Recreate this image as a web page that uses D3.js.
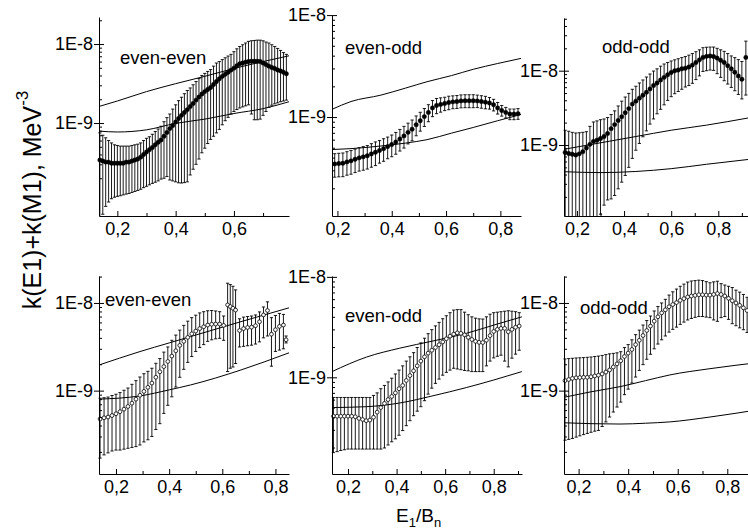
<!DOCTYPE html>
<html>
<head>
<meta charset="utf-8">
<script src="https://cdn.jsdelivr.net/npm/d3@7"></script>
<style>
  body { margin: 0; background: #fff; }
  svg { display: block; font-family: 'Liberation Sans', Arial, sans-serif; }
</style>
</head>
<body>
<svg></svg>
<script>
// All k values are in units of 1E-9 MeV^-3

// Tick labels
var xMajorTicks = [0.2, 0.4, 0.6, 0.8];
var xTickLabels = ['0,2', '0,4', '0,6', '0,8'];
var xMinorTicks = [0.1, 0.3, 0.5, 0.7, 0.9];
var yMajorTicks = [1, 10];
var yTickLabels = ['1E-9', '1E-8'];
var yMinorTicks = [0.2, 0.3, 0.4, 0.5, 0.6, 0.7, 0.8, 0.9, 2, 3, 4, 5, 6, 7, 8, 9, 20, 30, 40, 50];

// Top left: even-even
var eeTopX = [0.14, 0.15, 0.16, 0.17, 0.18, 0.19, 0.20, 0.21, 0.22, 0.23, 0.24, 0.25, 0.26, 0.27, 0.28, 0.29, 0.30, 0.31, 0.32, 0.33, 0.34, 0.35, 0.36, 0.37, 0.38, 0.39, 0.40, 0.41, 0.42, 0.43, 0.44, 0.45, 0.46, 0.47, 0.48, 0.49, 0.50, 0.51, 0.52, 0.53, 0.54, 0.55, 0.56, 0.57, 0.58, 0.59, 0.60, 0.61, 0.62, 0.63, 0.64, 0.65, 0.66, 0.67, 0.68, 0.69, 0.70, 0.71, 0.72, 0.73, 0.74, 0.75, 0.76, 0.77, 0.78];
var eeTopY = [0.34, 0.33, 0.32, 0.32, 0.31, 0.31, 0.31, 0.31, 0.31, 0.32, 0.32, 0.33, 0.34, 0.35, 0.37, 0.40, 0.43, 0.46, 0.49, 0.53, 0.57, 0.61, 0.68, 0.76, 0.85, 0.93, 1.03, 1.14, 1.25, 1.36, 1.48, 1.62, 1.77, 1.95, 2.14, 2.33, 2.50, 2.66, 2.82, 3.08, 3.35, 3.63, 3.90, 4.15, 4.40, 4.68, 4.95, 5.30, 5.62, 5.75, 5.90, 6.00, 6.05, 6.05, 6.05, 6.00, 5.75, 5.50, 5.25, 5.05, 4.90, 4.70, 4.57, 4.40, 4.20];
var eeTopHi = [0.75, 0.70, 0.65, 0.60, 0.56, 0.53, 0.52, 0.51, 0.51, 0.51, 0.51, 0.52, 0.53, 0.54, 0.56, 0.60, 0.64, 0.67, 0.72, 0.78, 0.84, 0.91, 1.04, 1.17, 1.30, 1.50, 1.70, 1.92, 2.12, 2.35, 2.58, 2.78, 3.05, 3.35, 3.65, 4.00, 4.25, 4.50, 4.75, 5.25, 5.75, 6.00, 6.35, 6.70, 7.05, 7.40, 8.00, 8.70, 9.30, 9.80, 10.3, 10.8, 11.0, 11.1, 11.2, 11.2, 11.0, 10.6, 10.3, 9.80, 9.30, 8.80, 8.30, 7.80, 7.40];
var eeTopLo = [0.05, 0.07, 0.088, 0.10, 0.11, 0.115, 0.118, 0.12, 0.123, 0.126, 0.128, 0.132, 0.136, 0.14, 0.145, 0.152, 0.158, 0.165, 0.172, 0.178, 0.185, 0.195, 0.20, 0.21, 0.19, 0.185, 0.18, 0.175, 0.174, 0.176, 0.18, 0.22, 0.26, 0.30, 0.35, 0.42, 0.48, 0.55, 0.62, 0.68, 0.75, 0.83, 0.95, 1.07, 1.18, 1.30, 1.40, 1.48, 1.55, 1.60, 1.65, 1.70, 1.30, 1.10, 1.10, 1.12, 1.25, 1.40, 1.58, 1.68, 1.75, 1.80, 1.86, 1.90, 1.95];
var eeTopLineX = [0.137, 0.2, 0.3, 0.4, 0.5, 0.6, 0.7, 0.789];
var eeTopUpper = [1.62, 1.90, 2.50, 3.15, 3.90, 4.90, 6.00, 7.10];
var eeTopLower = [0.79, 0.77, 0.82, 0.99, 1.12, 1.32, 1.52, 1.86];

// Top middle: even-odd
var eoTopX = [0.19, 0.205, 0.22, 0.235, 0.25, 0.265, 0.28, 0.295, 0.31, 0.325, 0.34, 0.355, 0.37, 0.385, 0.40, 0.415, 0.43, 0.445, 0.46, 0.475, 0.49, 0.505, 0.52, 0.535, 0.55, 0.565, 0.58, 0.595, 0.61, 0.625, 0.64, 0.655, 0.67, 0.685, 0.70, 0.715, 0.73, 0.745, 0.76, 0.775, 0.79, 0.805, 0.82, 0.835, 0.85, 0.865];
var eoTopY = [0.347, 0.35, 0.352, 0.363, 0.372, 0.385, 0.398, 0.407, 0.417, 0.435, 0.452, 0.47, 0.49, 0.513, 0.537, 0.569, 0.61, 0.653, 0.708, 0.76, 0.84, 0.92, 1.01, 1.11, 1.23, 1.30, 1.33, 1.36, 1.39, 1.41, 1.42, 1.44, 1.445, 1.445, 1.445, 1.44, 1.42, 1.40, 1.375, 1.32, 1.23, 1.16, 1.11, 1.07, 1.07, 1.08];
var eoTopHi = [0.437, 0.441, 0.444, 0.457, 0.469, 0.485, 0.501, 0.513, 0.525, 0.548, 0.570, 0.588, 0.613, 0.636, 0.666, 0.706, 0.756, 0.810, 0.871, 0.935, 1.025, 1.113, 1.212, 1.321, 1.451, 1.521, 1.543, 1.564, 1.60, 1.614, 1.626, 1.649, 1.655, 1.655, 1.655, 1.642, 1.619, 1.596, 1.554, 1.492, 1.39, 1.299, 1.243, 1.198, 1.198, 1.21];
var eoTopLo = [0.257, 0.259, 0.260, 0.269, 0.275, 0.285, 0.295, 0.301, 0.309, 0.322, 0.334, 0.353, 0.368, 0.390, 0.408, 0.432, 0.464, 0.496, 0.545, 0.585, 0.655, 0.727, 0.808, 0.899, 1.009, 1.079, 1.117, 1.156, 1.18, 1.206, 1.214, 1.231, 1.235, 1.235, 1.235, 1.238, 1.221, 1.204, 1.196, 1.148, 1.07, 1.021, 0.977, 0.942, 0.942, 0.95];
var eoTopLineX = [0.18, 0.25, 0.36, 0.45, 0.53, 0.62, 0.70, 0.79, 0.876];
var eoTopUpper = [1.19, 1.42, 1.64, 1.92, 2.22, 2.55, 2.94, 3.35, 3.76];
var eoTopLower = [0.48, 0.49, 0.52, 0.555, 0.60, 0.695, 0.79, 0.92, 1.06];

// Top right: odd-odd
var ooTopX = [0.15, 0.165, 0.18, 0.195, 0.21, 0.225, 0.24, 0.255, 0.27, 0.285, 0.30, 0.315, 0.33, 0.345, 0.36, 0.375, 0.39, 0.405, 0.42, 0.435, 0.45, 0.465, 0.48, 0.495, 0.51, 0.525, 0.54, 0.555, 0.57, 0.585, 0.60, 0.615, 0.63, 0.645, 0.66, 0.675, 0.69, 0.705, 0.72, 0.735, 0.75, 0.765, 0.78, 0.795, 0.81, 0.825, 0.84, 0.855, 0.87, 0.885, 0.90, 0.917];
var ooTopY = [0.794, 0.767, 0.75, 0.733, 0.76, 0.813, 0.912, 1.02, 1.12, 1.16, 1.22, 1.30, 1.43, 1.66, 1.88, 2.14, 2.40, 2.72, 3.09, 3.55, 3.89, 4.27, 4.68, 5.13, 5.69, 6.31, 6.84, 7.50, 8.13, 8.81, 9.44, 10.0, 10.2, 10.6, 10.8, 11.2, 11.9, 12.9, 14.0, 15.1, 15.6, 15.8, 15.5, 14.8, 13.8, 12.9, 11.7, 10.6, 9.55, 8.51, 7.67, 15.1];
var ooTopHi = [1.58, 1.53, 1.48, 1.45, 1.46, 1.48, 1.51, 1.78, 2.04, 2.11, 2.19, 2.24, 2.34, 2.57, 2.88, 3.35, 3.89, 4.42, 4.95, 5.62, 6.17, 6.84, 7.50, 8.22, 9.02, 9.89, 10.6, 11.5, 12.3, 12.9, 13.5, 14.0, 14.5, 15.0, 15.5, 16.2, 17.0, 18.0, 19.1, 20.4, 20.7, 20.8, 20.8, 20.0, 19.1, 18.2, 17.0, 15.8, 15.0, 14.1, 13.3, 25.0];
var ooTopLo = [0.08, 0.08, 0.08, 0.08, 0.08, 0.08, 0.08, 0.08, 0.08, 0.08, 0.117, 0.155, 0.182, 0.188, 0.209, 0.257, 0.316, 0.389, 0.50, 0.66, 0.85, 1.05, 1.29, 1.55, 1.91, 2.24, 2.63, 3.02, 3.47, 3.98, 4.47, 4.90, 5.25, 5.62, 6.03, 6.31, 6.76, 7.59, 8.51, 9.77, 10.0, 10.2, 10.1, 9.12, 8.13, 7.33, 6.61, 5.96, 5.37, 4.79, 4.17, 4.7];
var ooTopLineX = [0.145, 0.30, 0.45, 0.60, 0.75, 0.93];
var ooTopUpper = [0.875, 1.07, 1.30, 1.58, 1.85, 2.32];
var ooTopLower = [0.437, 0.425, 0.44, 0.48, 0.55, 0.64];

// Bottom left: even-even
var eeBotX = [0.14, 0.155, 0.17, 0.185, 0.20, 0.215, 0.23, 0.245, 0.26, 0.275, 0.29, 0.305, 0.32, 0.335, 0.35, 0.365, 0.38, 0.395, 0.41, 0.425, 0.44, 0.455, 0.47, 0.485, 0.50, 0.515, 0.53, 0.545, 0.56, 0.575, 0.59, 0.605, 0.62, 0.63, 0.64, 0.65, 0.665, 0.68, 0.695, 0.71, 0.725, 0.74, 0.755, 0.77, 0.785, 0.80, 0.815, 0.83, 0.84];
var eeBotY = [0.475, 0.49, 0.50, 0.52, 0.545, 0.575, 0.615, 0.66, 0.72, 0.80, 0.885, 0.98, 1.09, 1.22, 1.42, 1.64, 1.88, 2.15, 2.48, 2.85, 3.28, 3.65, 4.05, 4.45, 4.78, 5.10, 5.35, 5.60, 5.72, 5.75, 5.75, 5.55, 9.5, 9.1, 8.7, 8.3, 4.85, 5.1, 5.25, 5.3, 5.5, 6.1, 7.3, 8.2, 4.4, 4.95, 5.4, 5.6, 3.8];
var eeBotHi = [0.82, 0.83, 0.845, 0.88, 0.91, 0.95, 1.01, 1.07, 1.18, 1.30, 1.43, 1.56, 1.66, 1.80, 2.05, 2.32, 2.75, 3.15, 3.75, 4.30, 4.90, 5.55, 6.20, 6.80, 7.25, 7.70, 7.95, 8.15, 8.20, 8.10, 7.95, 7.10, 16.8, 16.2, 15.5, 14.1, 6.6, 6.9, 7.0, 7.1, 7.3, 7.9, 9.0, 10.3, 6.8, 7.2, 7.6, 7.4, 4.2];
var eeBotLo = [0.17, 0.185, 0.195, 0.205, 0.21, 0.21, 0.215, 0.22, 0.225, 0.23, 0.24, 0.26, 0.275, 0.30, 0.36, 0.42, 0.55, 0.68, 0.85, 1.10, 1.42, 1.75, 2.10, 2.45, 2.80, 3.10, 3.35, 3.65, 3.80, 3.90, 3.95, 3.75, 1.65, 1.8, 1.86, 2.04, 3.15, 3.2, 3.25, 3.3, 3.4, 3.6, 4.0, 4.2, 1.9, 2.8, 2.9, 3.0, 3.5];
var eeBotLineX = [0.136, 0.29, 0.40, 0.48, 0.67, 0.851];
var eeBotUpper = [1.96, 2.79, 3.50, 4.13, 6.12, 8.80];
var eeBotLower = [0.80, 0.87, 1.02, 1.16, 1.72, 2.70];

// Bottom middle: even-odd
var eoBotX = [0.14, 0.155, 0.17, 0.185, 0.20, 0.215, 0.23, 0.245, 0.26, 0.275, 0.29, 0.305, 0.32, 0.335, 0.35, 0.365, 0.38, 0.395, 0.41, 0.425, 0.44, 0.455, 0.47, 0.485, 0.50, 0.515, 0.53, 0.545, 0.56, 0.575, 0.59, 0.605, 0.62, 0.635, 0.65, 0.665, 0.68, 0.695, 0.71, 0.725, 0.74, 0.755, 0.77, 0.785, 0.80, 0.815, 0.83, 0.845, 0.86, 0.875, 0.89, 0.905];
var eoBotY = [0.41, 0.41, 0.41, 0.41, 0.41, 0.41, 0.405, 0.39, 0.38, 0.37, 0.375, 0.40, 0.45, 0.50, 0.55, 0.60, 0.645, 0.70, 0.77, 0.83, 0.93, 1.04, 1.16, 1.30, 1.45, 1.60, 1.74, 1.86, 1.98, 2.11, 2.25, 2.42, 2.57, 2.69, 2.77, 2.74, 2.65, 2.50, 2.38, 2.28, 2.23, 2.22, 2.34, 2.60, 2.86, 3.00, 3.07, 3.07, 2.84, 3.00, 3.15, 3.24];
var eoBotHi = [0.63, 0.63, 0.63, 0.63, 0.63, 0.63, 0.63, 0.63, 0.63, 0.63, 0.63, 0.66, 0.70, 0.77, 0.83, 0.90, 0.98, 1.08, 1.18, 1.30, 1.45, 1.60, 1.76, 1.98, 2.20, 2.45, 2.72, 2.98, 3.25, 3.52, 3.83, 4.10, 4.40, 4.67, 4.72, 4.72, 4.45, 4.20, 4.00, 3.88, 3.82, 3.80, 4.00, 4.25, 4.40, 4.45, 4.50, 4.55, 4.60, 4.55, 4.50, 4.40];
var eoBotLo = [0.178, 0.182, 0.187, 0.19, 0.193, 0.193, 0.193, 0.193, 0.193, 0.193, 0.193, 0.193, 0.193, 0.193, 0.198, 0.212, 0.228, 0.244, 0.265, 0.295, 0.33, 0.37, 0.415, 0.46, 0.51, 0.585, 0.68, 0.78, 0.87, 0.96, 1.05, 1.12, 1.18, 1.23, 1.21, 1.19, 1.17, 1.16, 1.14, 1.14, 1.14, 1.14, 1.30, 1.45, 1.56, 1.62, 1.66, 1.45, 1.27, 1.55, 1.70, 1.86];
var eoBotLineX = [0.134, 0.276, 0.413, 0.55, 0.687, 0.80, 0.916];
var eoBotUpper = [1.14, 1.59, 1.95, 2.30, 2.74, 3.31, 4.00];
var eoBotLower = [0.50, 0.51, 0.555, 0.655, 0.79, 0.94, 1.14];

// Bottom right: odd-odd
var ooBotX = [0.145, 0.16, 0.175, 0.19, 0.205, 0.22, 0.235, 0.25, 0.265, 0.28, 0.295, 0.31, 0.325, 0.34, 0.355, 0.37, 0.385, 0.40, 0.415, 0.43, 0.445, 0.46, 0.475, 0.49, 0.505, 0.52, 0.535, 0.55, 0.565, 0.58, 0.595, 0.61, 0.625, 0.64, 0.655, 0.67, 0.685, 0.70, 0.715, 0.73, 0.745, 0.76, 0.775, 0.79, 0.805, 0.82, 0.835, 0.85, 0.865, 0.88];
var ooBotY = [1.30, 1.34, 1.38, 1.40, 1.41, 1.42, 1.42, 1.44, 1.47, 1.50, 1.55, 1.63, 1.72, 1.86, 2.02, 2.19, 2.45, 2.68, 2.95, 3.35, 3.75, 4.25, 4.85, 5.45, 6.20, 6.95, 7.70, 8.35, 9.05, 9.60, 10.1, 10.7, 11.2, 11.7, 12.0, 12.2, 12.4, 12.4, 12.3, 12.3, 12.5, 12.8, 12.5, 12.0, 11.3, 10.6, 10.0, 9.4, 8.8, 8.2];
var ooBotHi = [2.30, 2.32, 2.34, 2.36, 2.37, 2.38, 2.40, 2.42, 2.45, 2.48, 2.52, 2.58, 2.63, 2.66, 2.70, 2.78, 3.10, 3.35, 3.80, 4.35, 4.90, 5.60, 6.30, 7.10, 8.10, 9.10, 10.0, 11.0, 12.3, 13.4, 14.4, 15.5, 16.4, 17.3, 17.8, 18.0, 18.2, 18.0, 17.5, 17.0, 17.4, 17.7, 16.6, 16.0, 15.5, 15.0, 14.0, 13.3, 12.5, 11.6];
var ooBotLo = [0.272, 0.278, 0.285, 0.295, 0.305, 0.315, 0.325, 0.335, 0.345, 0.352, 0.39, 0.44, 0.50, 0.57, 0.65, 0.74, 0.90, 1.04, 1.22, 1.43, 1.70, 1.98, 2.28, 2.60, 3.00, 3.40, 3.80, 4.20, 4.65, 5.00, 5.30, 5.70, 6.05, 6.40, 6.65, 6.85, 7.00, 7.00, 6.90, 6.80, 6.40, 6.17, 6.80, 7.00, 6.50, 5.80, 5.50, 5.20, 4.95, 4.60];
var ooBotLineX = [0.141, 0.25, 0.367, 0.47, 0.568, 0.73, 0.932];
var ooBotUpper = [0.84, 0.97, 1.11, 1.30, 1.51, 1.78, 2.10];
var ooBotLower = [0.43, 0.42, 0.416, 0.425, 0.44, 0.50, 0.61];

// Panel layout
var panels = [
  { label: 'even-even', labelX: 120, labelY: 64, open: false,
    xs: eeTopX, ys: eeTopY, hi: eeTopHi, lo: eeTopLo,
    lineX: eeTopLineX, upper: eeTopUpper, lower: eeTopLower,
    xDomain: [0.137, 0.789], yDomain: [0.0665, 22],
    left: 99, right: 289, top: 17, bottom: 216 },
  { label: 'even-odd', labelX: 345, labelY: 54, open: false,
    xs: eoTopX, ys: eoTopY, hi: eoTopHi, lo: eoTopLo,
    lineX: eoTopLineX, upper: eoTopUpper, lower: eoTopLower,
    xDomain: [0.18, 0.876], yDomain: [0.107, 10.02],
    left: 332, right: 521, top: 15, bottom: 216 },
  { label: 'odd-odd', labelX: 602, labelY: 53, open: false,
    xs: ooTopX, ys: ooTopY, hi: ooTopHi, lo: ooTopLo,
    lineX: ooTopLineX, upper: ooTopUpper, lower: ooTopLower,
    xDomain: [0.145, 0.977], yDomain: [0.1107, 51.2],
    left: 564, right: 760, top: 18, bottom: 216 },
  { label: 'even-even', labelX: 105, labelY: 306, open: true,
    xs: eeBotX, ys: eeBotY, hi: eeBotHi, lo: eeBotLo,
    lineX: eeBotLineX, upper: eeBotUpper, lower: eeBotLower,
    xDomain: [0.136, 0.851], yDomain: [0.112, 20.3],
    left: 99, right: 289, top: 276, bottom: 474 },
  { label: 'even-odd', labelX: 345, labelY: 322, open: true,
    xs: eoBotX, ys: eoBotY, hi: eoBotHi, lo: eoBotLo,
    lineX: eoBotLineX, upper: eoBotUpper, lower: eoBotLower,
    xDomain: [0.134, 0.9165], yDomain: [0.109, 10.2],
    left: 332, right: 522, top: 276, bottom: 474 },
  { label: 'odd-odd', labelX: 580, labelY: 314, open: true,
    xs: ooBotX, ys: ooBotY, hi: ooBotHi, lo: ooBotLo,
    lineX: ooBotLineX, upper: ooBotUpper, lower: ooBotLower,
    xDomain: [0.141, 0.932], yDomain: [0.112, 20.3],
    left: 564, right: 760, top: 276, bottom: 474 }
];

var svg = d3.select('svg')
  .attr('width', 748)
  .attr('height', 531);

var defs = svg.append('defs');

function styleAxis (g) {
  g.attr('font-family', "'Liberation Sans', Arial, sans-serif")
    .attr('font-size', 18);
  g.selectAll('text').attr('fill', '#000');
}

panels.forEach(function (p, i) {
  var x = d3.scaleLinear().domain(p.xDomain).range([p.left, p.right]);
  var y = d3.scaleLog().domain(p.yDomain).range([p.bottom, p.top]);

  defs.append('clipPath')
    .attr('id', 'clip' + i)
    .append('rect')
      .attr('x', p.left - 4)
      .attr('y', p.top - 20)
      .attr('width', p.right - p.left + 8)
      .attr('height', p.bottom - p.top + 20);

  var plot = svg.append('g').attr('clip-path', 'url(#clip' + i + ')');

  var rows = p.xs.map(function (d, j) {
    return { x: d, y: p.ys[j], hi: p.hi[j], lo: p.lo[j] };
  });

  // Error bars with caps
  var bars = plot.selectAll('.bar')
    .data(rows)
    .enter()
    .append('g')
      .attr('class', 'bar')
      .attr('stroke', '#000')
      .attr('stroke-width', 0.9);

  bars.append('line')
    .attr('x1', function (d) { return x(d.x); })
    .attr('x2', function (d) { return x(d.x); })
    .attr('y1', function (d) { return y(d.lo); })
    .attr('y2', function (d) { return y(d.hi); });

  bars.append('line')
    .attr('x1', function (d) { return x(d.x) - 1.6; })
    .attr('x2', function (d) { return x(d.x) + 1.6; })
    .attr('y1', function (d) { return y(d.hi); })
    .attr('y2', function (d) { return y(d.hi); });

  bars.append('line')
    .attr('x1', function (d) { return x(d.x) - 1.6; })
    .attr('x2', function (d) { return x(d.x) + 1.6; })
    .attr('y1', function (d) { return y(d.lo); })
    .attr('y2', function (d) { return y(d.lo); });

  // Model curves
  var line = d3.line()
    .x(function (d) { return x(d[0]); })
    .y(function (d) { return y(d[1]); })
    .curve(d3.curveMonotoneX);

  [p.upper, p.lower].forEach(function (vals) {
    plot.append('path')
      .datum(p.lineX.map(function (d, j) { return [d, vals[j]]; }))
      .attr('d', line)
      .attr('fill', 'none')
      .attr('stroke', '#000')
      .attr('stroke-width', 1);
  });

  // Points
  plot.selectAll('circle')
    .data(rows)
    .enter()
    .append('circle')
      .attr('cx', function (d) { return x(d.x); })
      .attr('cy', function (d) { return y(d.y); })
      .attr('r', p.open ? 1.9 : 2.2)
      .attr('fill', p.open ? '#fff' : '#000')
      .attr('stroke', '#000')
      .attr('stroke-width', p.open ? 0.8 : 0.4);

  // X axis
  var xMajor = xMajorTicks.filter(function (d) { return d >= p.xDomain[0] && d <= p.xDomain[1]; });
  var xMinor = xMinorTicks.filter(function (d) { return d >= p.xDomain[0] && d <= p.xDomain[1]; });

  svg.append('g')
    .attr('transform', 'translate(0,' + p.bottom + ')')
    .call(d3.axisBottom(x)
      .tickValues(xMajor)
      .tickFormat(function (d) { return xTickLabels[xMajorTicks.indexOf(d)]; })
      .tickSizeInner(-5)
      .tickSizeOuter(0)
      .tickPadding(6))
    .call(styleAxis);

  svg.append('g')
    .attr('transform', 'translate(0,' + p.bottom + ')')
    .call(d3.axisBottom(x).tickValues(xMinor).tickFormat('').tickSizeInner(-3).tickSizeOuter(0))
    .call(function (g) { g.select('.domain').remove(); });

  // Y axis
  var yMinor = yMinorTicks.filter(function (d) { return d >= p.yDomain[0] && d <= p.yDomain[1]; });

  svg.append('g')
    .attr('transform', 'translate(' + p.left + ',0)')
    .call(d3.axisLeft(y)
      .tickValues(yMajorTicks)
      .tickFormat(function (d) { return yTickLabels[yMajorTicks.indexOf(d)]; })
      .tickSizeInner(5)
      .tickSizeOuter(0)
      .tickPadding(1))
    .call(styleAxis);

  svg.append('g')
    .attr('transform', 'translate(' + p.left + ',0)')
    .call(d3.axisLeft(y).tickValues(yMajorTicks).tickFormat('').tickSizeInner(-5).tickSizeOuter(0))
    .call(function (g) { g.select('.domain').remove(); });

  svg.append('g')
    .attr('transform', 'translate(' + p.left + ',0)')
    .call(d3.axisLeft(y).tickValues(yMinor).tickFormat('').tickSizeInner(-3).tickSizeOuter(0))
    .call(function (g) { g.select('.domain').remove(); });

  // Panel label
  svg.append('text')
    .attr('x', p.labelX)
    .attr('y', p.labelY)
    .attr('font-size', 18.5)
    .attr('fill', '#000')
    .text(p.label);
});

// Y axis title
var yTitle = svg.append('text')
  .attr('transform', 'translate(41,200) rotate(-90)')
  .attr('text-anchor', 'middle')
  .attr('font-size', 25)
  .attr('fill', '#000');
yTitle.append('tspan').text('k(E1)+k(M1), MeV');
yTitle.append('tspan').attr('dy', -13).attr('font-size', 17).text('-3');

// X axis title
var xTitle = svg.append('text')
  .attr('x', 396)
  .attr('y', 522)
  .attr('font-size', 19)
  .attr('fill', '#000');
xTitle.append('tspan').text('E');
xTitle.append('tspan').attr('dy', 5).attr('font-size', 13).text('1');
xTitle.append('tspan').attr('dy', -5).text('/B');
xTitle.append('tspan').attr('dy', 5).attr('font-size', 13).text('n');
</script>
</body>
</html>
